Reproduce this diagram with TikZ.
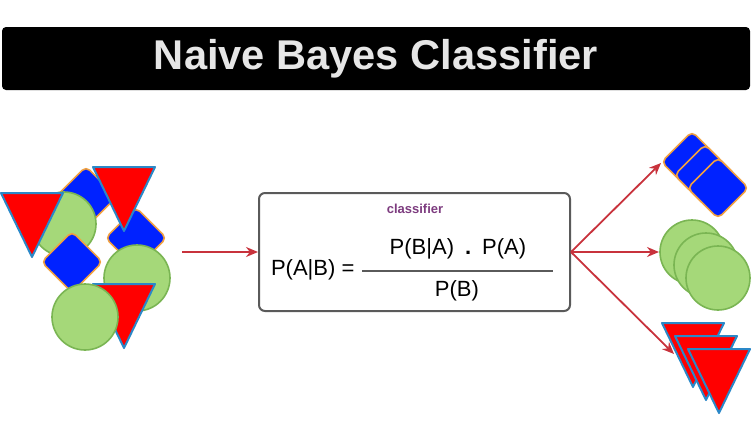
\documentclass[tikz,border=0pt]{standalone}
\usepackage{fontspec}
\setmainfont{Liberation Sans}
\usepackage{xcolor}
\usetikzlibrary{arrows.meta, positioning}

\definecolor{shapeblue}{HTML}{0022FF}
\definecolor{edgeorange}{HTML}{F0A040}
\definecolor{trired}{HTML}{FF0000}
\definecolor{edgeblue}{HTML}{2A88C8}
\definecolor{ballgreen}{HTML}{A5D879}
\definecolor{edgegreen}{HTML}{7AB553}
\definecolor{arrowred}{HTML}{C8323C}
\definecolor{boxgray}{HTML}{5A5A5A}
\definecolor{labelpurple}{HTML}{7D3C7F}
\definecolor{titlegray}{HTML}{E6E6E6}

\tikzset{
  dia/.style={draw=edgeorange, fill=shapeblue, line width=0.8pt, rounded corners=2.5pt,
    minimum size=21.5pt, inner sep=0pt, rotate=45},
  tri/.style={draw=edgeblue, fill=trired, line width=1pt, line join=round},
  ball/.style={draw=edgegreen, fill=ballgreen, line width=0.8pt},
  flow/.style={-{Stealth[length=6pt, width=5pt]}, arrowred, line width=0.9pt},
}

% down-pointing triangle centred at (#1,#2)
\newcommand{\dtri}[2]{\draw[tri] (#1-31,#2-32) -- (#1+31,#2-32) -- (#1,#2+32) -- cycle;}

\begin{document}
\begin{tikzpicture}[x=0.5pt, y=-0.5pt]
  \useasboundingbox (0,0) rectangle (752,440);

  % Title bar
  \node[fill=black, rounded corners=2pt, minimum width=374pt, minimum height=31.5pt,
    text=titlegray, font=\fontsize{20.8}{24}\selectfont\bfseries] (title) at (376,58.5)
    {Naive Bayes Classifier};

  % Mixed input shapes
  \node[dia] (d1) at (86,197) {};
  \draw[ball] (64,224) circle[radius=32];
  \dtri{32}{225}
  \node[dia] (d2) at (136,238) {};
  \dtri{124}{199}
  \node[dia] (d3) at (72,262) {};
  \draw[ball] (137,278) circle[radius=33];
  \dtri{124}{316}
  \draw[ball] (85,317) circle[radius=33];

  % Classifier box
  \node[draw=boxgray, line width=1pt, rounded corners=3pt, minimum width=155.5pt,
    minimum height=59pt] (clf) at (414.5,252) {};
  \node[text=labelpurple, font=\fontsize{6.5}{8}\selectfont\bfseries] (lbl) at (415,209) {classifier};
  \node[font=\fontsize{11}{13}\selectfont, anchor=west] (lhs) at (264,270) {P(A|B) =};
  \node[font=\fontsize{11}{13}\selectfont] (num) at (458,249) {P(B|A)\enspace\textbf{.}\enspace P(A)};
  \node[font=\fontsize{11}{13}\selectfont] (den) at (457,291) {P(B)};
  \draw[boxgray, line width=0.6pt] (362,271) -- (553,271);

  % Arrows
  \coordinate (src) at (182,252);
  \coordinate (toDia) at (661,163);
  \coordinate (toBall) at (659,252);
  \coordinate (toTri) at (674,354);
  \draw[flow] (src) -- (clf.west);
  \draw[flow] (clf.east) -- (toDia);
  \draw[flow] (clf.east) -- (toBall);
  \draw[flow] (clf.east) -- (toTri);

  % Sorted output shapes
  \node[dia] (r1) at (692,162) {};
  \node[dia] (r2) at (705,175) {};
  \node[dia] (r3) at (718,188) {};

  \draw[ball] (692,252) circle[radius=32];
  \draw[ball] (706,265) circle[radius=32];
  \draw[ball] (718,278) circle[radius=32];

  \dtri{693}{355}
  \dtri{706}{368}
  \dtri{719}{381}
\end{tikzpicture}
\end{document}
